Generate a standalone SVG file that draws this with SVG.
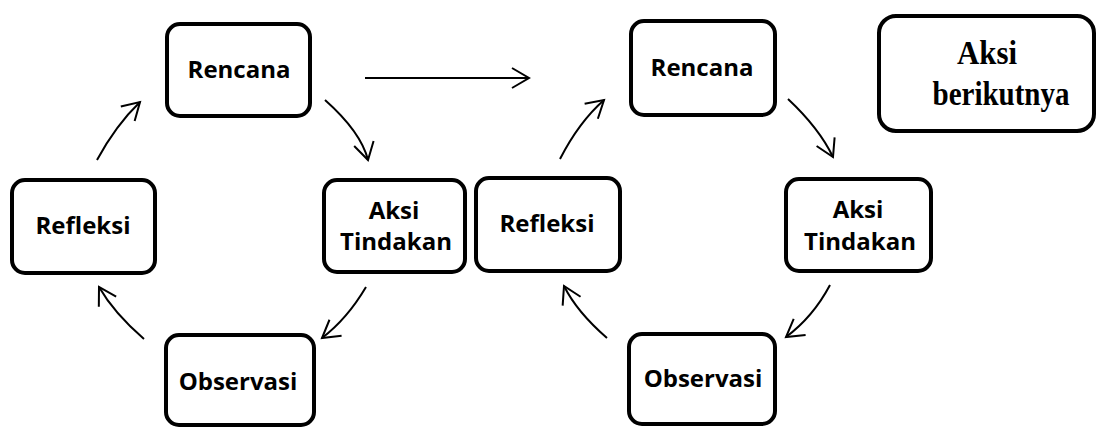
<svg xmlns="http://www.w3.org/2000/svg" width="1099" height="427" viewBox="0 0 1099 427">
<defs>
<style>
.box{fill:#fff;stroke:#000;stroke-width:4}
.t{font-family:"Open Sans","Liberation Sans",sans-serif;font-weight:700;font-size:24px;fill:#000;text-anchor:middle}
.ts{font-family:"Liberation Serif","Times New Roman",serif;font-weight:700;font-size:34px;fill:#000;text-anchor:middle}
.c{fill:none;stroke:#000;stroke-width:2;marker-end:url(#ah)}
</style>
<marker id="ah" markerUnits="userSpaceOnUse" viewBox="-20 -12 24 24" refX="0" refY="0" markerWidth="24" markerHeight="24" orient="auto" overflow="visible">
<path d="M-17,-10 L0,0 L-17,10" fill="none" stroke="#000" stroke-width="2" stroke-linejoin="miter"/>
</marker>
</defs>
<rect width="1099" height="427" fill="#fff"/>
<g id="connectors">
<path class="c" d="M97,160 Q116,125 140,102"/>
<path class="c" d="M325,100 Q361,132 368,160"/>
<path class="c" d="M366,287 Q347,319 322,338"/>
<path class="c" d="M144,339 Q114,313 99,287"/>
<path class="c" d="M365,78 L529,78"/>
<path class="c" d="M560,159 Q579,122 604,100"/>
<path class="c" d="M788,99 Q819,128 833,157"/>
<path class="c" d="M830,285 Q813,317 786,337"/>
<path class="c" d="M607,338 Q577,312 564,286"/>
</g>
<g id="rencana1"><rect class="box" x="167" y="24" width="143" height="92" rx="13"/><text class="t" x="239" y="78">Rencana</text></g>
<g id="refleksi1"><rect class="box" x="12" y="180" width="143" height="93" rx="13"/><text class="t" x="83" y="234">Refleksi</text></g>
<g id="aksi1"><rect class="box" x="324" y="180" width="141" height="92" rx="13"/><text class="t" x="394" y="219">Aksi</text><text class="t" x="396" y="250">Tindakan</text></g>
<g id="observasi1"><rect class="box" x="166" y="335" width="148" height="90" rx="13"/><text class="t" x="238" y="390">Observasi</text></g>
<g id="rencana2"><rect class="box" x="631" y="21" width="144" height="94" rx="13"/><text class="t" x="702" y="76">Rencana</text></g>
<g id="refleksi2"><rect class="box" x="476" y="178" width="144" height="93" rx="13"/><text class="t" x="547" y="232">Refleksi</text></g>
<g id="aksi2"><rect class="box" x="786" y="179" width="145" height="92" rx="13"/><text class="t" x="858" y="218">Aksi</text><text class="t" x="860" y="250">Tindakan</text></g>
<g id="observasi2"><rect class="box" x="629" y="334" width="146" height="90" rx="13"/><text class="t" x="703" y="387">Observasi</text></g>
<g id="aksiberikutnya"><rect class="box" x="879" y="16" width="215" height="115" rx="17"/><text class="ts" x="987" y="64" textLength="60" lengthAdjust="spacingAndGlyphs">Aksi</text><text class="ts" x="1001" y="105" textLength="137" lengthAdjust="spacingAndGlyphs">berikutnya</text></g>
</svg>
